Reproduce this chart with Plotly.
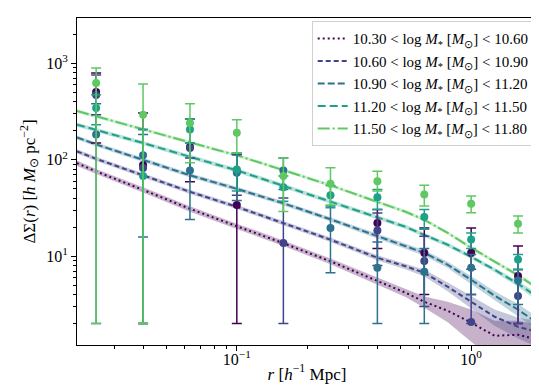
import plotly.graph_objects as go

# radial bins of the measurements [h^-1 Mpc]
r_bins = [0.0251, 0.0398, 0.0631, 0.1, 0.158, 0.251, 0.398, 0.631, 1.0, 1.585]
# radii where the model curves are sampled
r_model = [0.0208, 0.0251, 0.0398, 0.0631, 0.1, 0.158, 0.251, 0.398, 0.525, 0.631,
           0.794, 1.0, 1.26, 1.585, 1.91]

labels = ["10.30", "10.60", "10.90", "11.20", "11.50", "11.80"]

# model Delta Sigma, one curve per stellar-mass bin
model_1 = [92.0, 75.6, 48.6, 30.9, 20.4, 13.6, 8.83, 5.55, 4.17, 3.36, 2.71, 2.04, 1.49, 1.53, 1.36]
model_2 = [122, 102, 68.8, 46.4, 32.4, 22.1, 14.8, 9.6, 7.84, 6.71, 4.81, 3.36, 2.35, 1.85, 1.64]
model_3 = [170, 144, 99.5, 68.8, 49.8, 35.3, 24.1, 16.2, 12.8, 10.8, 8.13, 5.68, 3.88, 2.78, 2.04]
model_4 = [231, 204, 149, 107, 77.5, 53.5, 36.5, 24.9, 20.1, 16.6, 13.1, 9.83, 7.21, 5.16, 3.79]
model_5 = [320, 281, 206, 151, 111, 78.4, 54.2, 36.5, 28.8, 23.8, 17.4, 12.2, 8.73, 6.32, 4.69]

# model uncertainty (1 sigma)
sig_1 = [6.0, 4.5, 3.0, 2.0, 1.3, 0.9, 0.6, 0.45, 0.4, 0.45, 0.65, 0.75, 0.65, 0.6, 0.6]
sig_2 = [6.0, 5.0, 3.5, 2.3, 1.6, 1.1, 0.8, 0.6, 0.55, 0.55, 0.5, 0.5, 0.45, 0.45, 0.5]
sig_3 = [8.5, 7.0, 5.0, 3.4, 2.5, 1.8, 1.2, 0.9, 0.75, 0.7, 0.6, 0.55, 0.45, 0.4, 0.3]
sig_4 = [11, 10, 7.5, 5.3, 3.9, 2.7, 1.8, 1.2, 1.0, 0.8, 0.65, 0.5, 0.4, 0.35, 0.35]
sig_5 = [13, 11, 8.0, 6.0, 4.4, 3.1, 2.2, 1.5, 1.2, 1.0, 0.7, 0.5, 0.35, 0.3, 0.25]

# measurements with lower / upper ends of the error bars
obs_1 = [504, 88, 135, 33.8, None, None, 22.1, 10.8, 10.8, 6.21]
lo_1 = [149, 2, 59, 2, None, None, 12, 4, 4, 2]
hi_1 = [793, 305, 265, 113, None, None, 30.4, 19.6, 19.6, 12.7]

obs_2 = [469, 82, 132, 76, 13.7, None, 18.4, 8.9, 2.07, 3.85]
lo_2 = [293, 2, 104, 42.8, 2, None, 8, 3, 2, 2]
hi_2 = [757, 205, 265, 113, 40, None, 28, 16.1, 7.3, 7.26]

obs_3 = [182, 111, 77.1, 73, 77.1, 19.6, 7.57, 6.87, 7.57, 5.59]
lo_3 = [2, 15.8, 23.9, 37.7, 49, 6.7, 2, 2, 4.0, 3.15]
hi_3 = [379, 182, 149, 117.5, 104, 33, 14, 12, 10.4, 7.26]

obs_4 = [344, 67.5, 205, 78.9, 51.9, 42.8, 40.8, 25.4, 14.9, 9.2]
lo_4 = [230, 2, 149, 47.2, 37, 31.7, 30.4, 19, 12, 7.26]
hi_4 = [470, 205, 265, 117, 67.5, 54, 49, 30.4, 17.4, 10.4]

obs_5 = [625, 293, 240, 190, 67.5, 56.1, 59.8, 43.5, 34.8, 21.6]
lo_5 = [2, 2, 92.7, 117.5, 29, 33.8, 47.2, 33, 28.1, 17.4]
hi_5 = [893, 610, 381, 260, 104, 82.2, 76, 54.4, 41.9, 26]

colors = ["#440154", "#414487", "#2c728e", "#1fa088", "#5ec962"]
fills = ["rgba(68,1,84,0.3)", "rgba(65,68,135,0.3)", "rgba(44,114,142,0.3)",
         "rgba(31,160,136,0.3)", "rgba(94,201,98,0.3)"]
dashes = ["2px,3px", "5px,3px", "7px,3px", "8px,4px", "12px,3px,2px,3px"]

models = [model_1, model_2, model_3, model_4, model_5]
sigmas = [sig_1, sig_2, sig_3, sig_4, sig_5]
obs = [obs_1, obs_2, obs_3, obs_4, obs_5]
los = [lo_1, lo_2, lo_3, lo_4, lo_5]
his = [hi_1, hi_2, hi_3, hi_4, hi_5]

fig = go.Figure()

for i in range(5):
    lower = [m - s for m, s in zip(models[i], sigmas[i])]
    upper = [m + s for m, s in zip(models[i], sigmas[i])]
    fig.add_trace(go.Scatter(x=r_model, y=lower, mode="lines", line=dict(width=0),
                             showlegend=False, hoverinfo="skip"))
    fig.add_trace(go.Scatter(x=r_model, y=upper, mode="lines", line=dict(width=0),
                             fill="tonexty", fillcolor=fills[i],
                             showlegend=False, hoverinfo="skip"))

for i in range(5):
    name = (f"{labels[i]} &lt; log <i>M</i><sub>*</sub> [<i>M</i><sub>⊙</sub>] "
            f"&lt; {labels[i + 1]}")
    fig.add_trace(go.Scatter(x=r_model, y=models[i], mode="lines", name=name,
                             line=dict(color=colors[i], width=2, dash=dashes[i])))

for i in range(5):
    plus = [None if y is None else h - y for y, h in zip(obs[i], his[i])]
    minus = [None if y is None else y - l for y, l in zip(obs[i], los[i])]
    fig.add_trace(go.Scatter(
        x=r_bins, y=obs[i], mode="markers", showlegend=False,
        marker=dict(color=colors[i], size=8),
        error_y=dict(type="data", symmetric=False, array=plus, arrayminus=minus,
                     color=colors[i], thickness=1.5, width=5),
    ))

font = "Liberation Serif"
axis_common = dict(type="log", showgrid=False, zeroline=False, showline=True,
                   linecolor="black", linewidth=1, mirror=True, ticks="outside",
                   ticklen=5, tickcolor="black", tickfont=dict(family=font, size=16, color="black"))

fig.update_xaxes(
    **axis_common,
    range=[-1.682, 0.281],
    tickvals=[0.1, 1],
    ticktext=["10<sup>−1</sup>", "10<sup>0</sup>"],
    ticklabelstandoff=-5,
    minor=dict(ticks="outside", ticklen=3, tickcolor="black",
               tickvals=[0.03, 0.04, 0.05, 0.06, 0.07, 0.08, 0.09,
                         0.2, 0.3, 0.4, 0.5, 0.6, 0.7, 0.8, 0.9]),
    title=dict(text="<i>r</i> [<i>h</i><sup>−1</sup> Mpc]", standoff=0,
               font=dict(family=font, size=17, color="black")),
)
fig.update_yaxes(
    **axis_common,
    range=[0.078, 3.469],
    tickvals=[10, 100, 1000],
    ticktext=["10<sup>1</sup>", "10<sup>2</sup>", "10<sup>3</sup>"],
    minor=dict(ticks="outside", ticklen=3, tickcolor="black",
               tickvals=[2, 3, 4, 5, 6, 7, 8, 9, 20, 30, 40, 50, 60, 70, 80, 90,
                         200, 300, 400, 500, 600, 700, 800, 900, 2000]),
    title=dict(text="ΔΣ(<i>r</i>) [<i>h</i> <i>M</i><sub>⊙</sub> pc<sup>−2</sup>]", standoff=6,
               font=dict(family=font, size=17, color="black")),
)

fig.update_layout(
    width=539, height=389,
    margin=dict(l=69, r=10, t=10, b=52),
    plot_bgcolor="white", paper_bgcolor="white",
    legend=dict(x=0.995, y=0.99, xanchor="right", yanchor="top", traceorder="normal",
                bgcolor="rgba(255,255,255,0.85)", bordercolor="#d0d0d0", borderwidth=1,
                font=dict(family=font, size=15, color="black"), itemwidth=30,
                tracegroupgap=0),
)

fig.write_html("out.html")
